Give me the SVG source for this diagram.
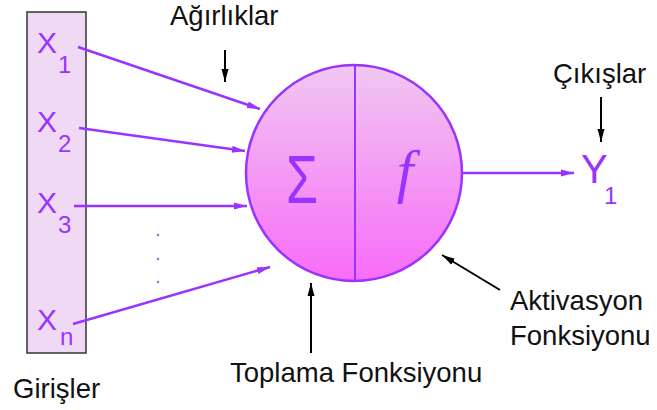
<svg xmlns="http://www.w3.org/2000/svg" width="657" height="410" viewBox="0 0 657 410">
<defs>
<linearGradient id="g" x1="0" y1="0" x2="0" y2="1">
<stop offset="0" stop-color="#f0c8f0"/>
<stop offset="1" stop-color="#f86cf8"/>
</linearGradient>
<marker id="ap" markerUnits="userSpaceOnUse" markerWidth="14" markerHeight="10" refX="13" refY="4" orient="auto">
<path d="M0,0.5 L13,4 L0,7.5 z" fill="#9933ff"/>
</marker>
<marker id="ab" markerUnits="userSpaceOnUse" markerWidth="14" markerHeight="10" refX="13" refY="4" orient="auto">
<path d="M0,0.5 L13,4 L0,7.5 z" fill="#000"/>
</marker>
</defs>
<style>
.lbl{font-family:"Liberation Sans",Arial,sans-serif;font-size:27.5px;fill:#111}
.v{font-family:"Liberation Sans",Arial,sans-serif;fill:#9933ff}
.big{font-size:30px}
.sub{font-size:24px}
.pl{stroke:#9933ff;stroke-width:2.5;fill:none;marker-end:url(#ap)}
.bl{stroke:#000;stroke-width:2;fill:none;marker-end:url(#ab)}
</style>
<g id="inputs">
<rect x="27" y="12" width="59" height="341" fill="#efd9f5" stroke="#333" stroke-width="1.5"/>
<text class="v big" x="37" y="53">X</text><text class="v sub" x="58" y="73">1</text>
<text class="v big" x="37" y="132">X</text><text class="v sub" x="58" y="152">2</text>
<text class="v big" x="37" y="213">X</text><text class="v sub" x="58" y="233">3</text>
<text class="v big" x="37" y="330">X</text><text class="v sub" x="60" y="345">n</text>
</g>
<g id="dots" fill="#9966cc">
<circle cx="158" cy="235" r="1.2"/><circle cx="158" cy="259" r="1.2"/><circle cx="158" cy="282" r="1.2"/>
</g>
<g id="neuron">
<circle cx="354" cy="173" r="108" fill="url(#g)" stroke="#9933ff" stroke-width="2.5"/>
<line x1="355" y1="65" x2="355" y2="281" stroke="#9933ff" stroke-width="2"/>
<text class="v" x="302" y="203" font-size="68" text-anchor="middle" textLength="32" lengthAdjust="spacingAndGlyphs">Σ</text>
<text x="405" y="191" font-family="'Liberation Serif','Times New Roman',serif" font-style="italic" font-size="60" fill="#9933ff" text-anchor="middle">f</text>
</g>
<g id="output">
<text class="v" x="581" y="183" font-size="40">Y</text><text class="v sub" x="604" y="204">1</text>
</g>
<g id="labels">
<text class="lbl" x="170" y="25">Ağırlıklar</text>
<text class="lbl" x="553" y="83">Çıkışlar</text>
<text class="lbl" x="510" y="310">Aktivasyon</text>
<text class="lbl" x="510" y="345">Fonksiyonu</text>
<text class="lbl" x="230" y="382">Toplama Fonksiyonu</text>
<text class="lbl" x="13" y="398">Girişler</text>
</g>
<g id="connectors">
<line class="pl" x1="78" y1="47" x2="260" y2="109"/>
<line class="pl" x1="79" y1="128" x2="245" y2="151"/>
<line class="pl" x1="74" y1="206" x2="247" y2="206"/>
<line class="pl" x1="73" y1="324" x2="270" y2="267"/>
<line class="pl" x1="463" y1="173" x2="574" y2="173"/>
<line class="bl" x1="225" y1="50" x2="225" y2="82"/>
<line class="bl" x1="311" y1="353" x2="311" y2="283"/>
<line class="bl" x1="500" y1="290" x2="442" y2="255"/>
<line class="bl" x1="601" y1="97" x2="601" y2="142"/>
</g>
</svg>
